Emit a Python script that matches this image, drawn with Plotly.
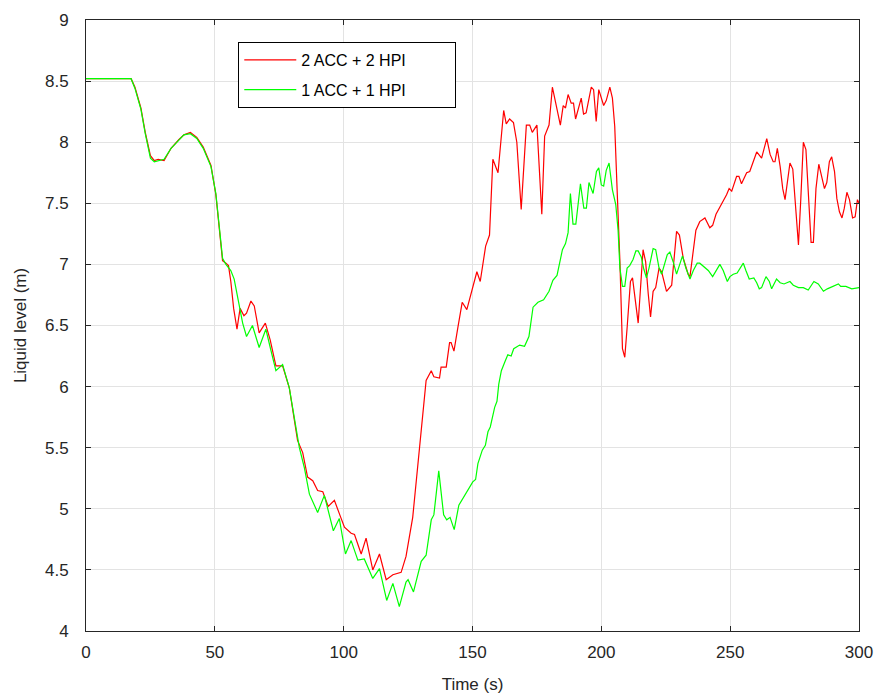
import plotly.graph_objects as go

# ---- data ----
t_red = [0, 17.5, 19, 21.3, 23, 25, 26.5, 28, 30.3, 33, 36, 38, 40.5, 43, 45.5, 48.5, 50.4, 51.7, 53, 54.3,
         55.3, 56.2, 57.3, 58.6, 59.8, 61.3, 62.3, 64, 65.3, 67.2, 69.6, 71.5, 73.7, 76.3, 78.9, 82.1, 84.1,
         86, 88, 89.9, 91.9, 94, 96.4, 98.5, 100.3, 102.9, 104.2, 106.8, 108.7, 111.3, 113.9, 116.5, 119.1,
         122.3, 124.2, 126.8, 129.4, 132, 134, 135, 137.2, 137.8, 139.8, 141.1, 141.7, 142.8, 144.3, 146,
         147.8, 150.1, 151.7, 153, 155.1, 156.6, 157.9, 159.9, 162.1, 163.1, 164.4, 165.9, 167.2, 168.9,
         170.9, 172.2, 173.2, 175, 176.9, 178, 179.7, 181, 184.1, 185.2, 186.1, 187.1, 188.3, 189.2, 190,
         192.2, 193.1, 194.1, 196.1, 197, 198, 199, 200.9, 201.9, 203.3, 204.3, 205.2, 206.2, 207.2, 208.2,
         209.1, 210, 211.3, 212.1, 213, 214.3, 216.2, 217.2, 218.2, 219.1, 220.1, 221.1, 222.4, 223.4,
         225.3, 227.3, 229.2, 230.3, 231.8, 233.7, 234.4, 235.7, 236.7, 238.2, 240.2, 242.1, 243.2, 244.5,
         246.7, 248.6, 249.6, 250.6, 252.5, 253.4, 254.4, 256.4, 257.6, 259, 260.3, 262.2, 264.2, 265.5,
         266.7, 267.4, 268.3, 269.4, 270.4, 271.3, 272.2, 273.2, 274.3, 275.2, 276.5, 277.4, 278.4, 279.4,
         280.3, 281.4, 282.3, 283.3, 284.4, 285.5, 286.6, 287.5, 288.5, 289.4, 290.5, 291.4, 292.4, 293.4,
         294.3, 295.3, 296.3, 297.5, 298.5, 299.4, 300]
level_red = [8.52, 8.52, 8.45, 8.28, 8.08, 7.89, 7.85, 7.86, 7.85, 7.95, 8.02, 8.06, 8.08, 8.04, 7.96, 7.81,
             7.57, 7.27, 7.03, 7.01, 6.99, 6.86, 6.64, 6.47, 6.64, 6.58, 6.60, 6.70, 6.66, 6.44, 6.52, 6.38,
             6.17, 6.17, 5.99, 5.56, 5.46, 5.26, 5.23, 5.15, 5.14, 5.02, 5.07, 4.95, 4.85, 4.80, 4.79, 4.63,
             4.76, 4.50, 4.63, 4.42, 4.46, 4.48, 4.61, 4.93, 5.48, 6.05, 6.13, 6.08, 6.07, 6.16, 6.16, 6.36,
             6.36, 6.29, 6.48, 6.69, 6.63, 6.81, 6.94, 6.86, 7.15, 7.24, 7.86, 7.75, 8.26, 8.15, 8.19, 8.16,
             8.00, 7.45, 8.14, 8.14, 8.08, 8.14, 7.41, 8.05, 8.14, 8.45, 8.14, 8.30, 8.28, 8.39, 8.32, 8.32,
             8.19, 8.36, 8.23, 8.24, 8.45, 8.43, 8.17, 8.43, 8.30, 8.34, 8.45, 8.36, 8.13, 7.57, 7.03, 6.31,
             6.24, 6.48, 6.86, 6.89, 6.75, 6.52, 7.12, 7.02, 6.76, 6.57, 6.78, 6.81, 6.97, 6.94, 6.78, 6.83,
             7.27, 7.24, 7.05, 6.92, 6.90, 7.13, 7.28, 7.35, 7.38, 7.30, 7.32, 7.41, 7.49, 7.57, 7.62, 7.60,
             7.72, 7.72, 7.66, 7.75, 7.76, 7.84, 7.92, 7.87, 8.03, 7.90, 7.84, 7.84, 7.95, 7.80, 7.62, 7.53,
             7.66, 7.83, 7.78, 7.49, 7.16, 7.53, 8.00, 7.94, 7.57, 7.18, 7.18, 7.62, 7.82, 7.71, 7.62, 7.67,
             7.84, 7.88, 7.76, 7.54, 7.43, 7.38, 7.46, 7.59, 7.53, 7.38, 7.39, 7.53, 7.50]

t_green = [0, 17.5, 19, 21.3, 23, 25, 26.5, 28, 30.3, 33, 36, 38, 40.5, 43, 45.5, 48.5, 50.4, 51.7, 53, 54.3,
           56.2, 57.5, 59.5, 60.8, 62.3, 64.6, 67.2, 69.8, 71.5, 73.7, 76.3, 78.9, 82.8, 84.7, 86.7, 89.9,
           92.5, 94.5, 96, 98.3, 100.7, 102.9, 105.5, 108, 111.3, 113.9, 116.7, 119.1, 121.6, 124.2, 125,
           127.1, 130.1, 132, 134, 135, 136.9, 138.8, 140, 141.3, 142.9, 144.7, 146.2, 148.2, 150.1, 151.2,
           152.1, 153.8, 155, 156, 156.9, 158.6, 159.5, 160.2, 161.2, 162.5, 163.7, 165, 166, 168.3, 170.2,
           171.9, 173.5, 175.4, 177.6, 179.7, 181.2, 182.8, 184.9, 186.1, 187.1, 188, 189, 190.1, 191.9,
           193.2, 194.2, 195.2, 196.8, 198.1, 199, 200, 200.9, 201.9, 203, 204.3, 205.6, 206.5, 207.2,
           208.2, 209.1, 210, 211, 212.3, 213.4, 214.3, 215.5, 216.5, 217.5, 218.5, 220.1, 221.1, 222.4,
           223.4, 225.6, 226.6, 227.9, 229.2, 230.5, 231.5, 232.8, 234.4, 235.7, 237.2, 238.2, 240.2, 241.5,
           243.2, 244.7, 246, 247.3, 248.9, 249.9, 251.2, 252.7, 253.8, 255.1, 256.1, 257.4, 259.2, 260.3,
           261.3, 262.2, 263.9, 265.2, 266.1, 268, 269.4, 270.9, 273.2, 274.5, 276.5, 278.4, 280.3, 282.5,
           284.2, 286.2, 287.7, 290, 292, 292.9, 294.9, 297.2, 299.1, 300]
level_green = [8.52, 8.52, 8.44, 8.27, 8.07, 7.87, 7.84, 7.85, 7.86, 7.95, 8.02, 8.06, 8.07, 8.03, 7.95, 7.80,
               7.58, 7.30, 7.05, 7.00, 6.95, 6.88, 6.67, 6.52, 6.41, 6.50, 6.32, 6.47, 6.32, 6.13, 6.18,
               5.99, 5.50, 5.34, 5.12, 4.97, 5.11, 4.95, 4.82, 4.92, 4.63, 4.74, 4.58, 4.59, 4.43, 4.51,
               4.25, 4.39, 4.20, 4.40, 4.42, 4.32, 4.57, 4.62, 4.91, 4.95, 5.31, 4.95, 4.91, 4.93, 4.83,
               5.03, 5.08, 5.15, 5.22, 5.24, 5.37, 5.48, 5.52, 5.63, 5.67, 5.83, 5.88, 6.02, 6.13, 6.20,
               6.26, 6.25, 6.31, 6.34, 6.33, 6.41, 6.65, 6.69, 6.71, 6.78, 6.87, 6.91, 7.12, 7.17, 7.26,
               7.58, 7.33, 7.33, 7.66, 7.46, 7.46, 7.67, 7.58, 7.76, 7.79, 7.65, 7.64, 7.77, 7.83, 7.61,
               7.49, 7.28, 6.97, 6.82, 6.82, 6.97, 6.99, 7.04, 7.11, 7.11, 7.06, 6.96, 6.89, 6.97, 7.13,
               7.12, 6.97, 6.92, 7.08, 7.10, 7.02, 6.92, 7.00, 7.07, 6.97, 6.88, 6.95, 7.01, 7.01, 6.97,
               6.95, 6.90, 6.95, 7.00, 6.95, 6.86, 6.90, 6.92, 6.93, 6.97, 7.01, 6.95, 6.88, 6.89, 6.85,
               6.80, 6.81, 6.90, 6.86, 6.80, 6.88, 6.85, 6.84, 6.86, 6.83, 6.81, 6.81, 6.79, 6.86, 6.84,
               6.78, 6.80, 6.82, 6.84, 6.82, 6.82, 6.80, 6.81, 6.81]

x_ticks = [0, 50, 100, 150, 200, 250, 300]
y_ticks = [4, 4.5, 5, 5.5, 6, 6.5, 7, 7.5, 8, 8.5, 9]
y_tick_labels = ["4", "4.5", "5", "5.5", "6", "6.5", "7", "7.5", "8", "8.5", "9"]

FONT = "Liberation Sans, Arial, sans-serif"
NB = "\u00a0"
fig = go.Figure()
fig.add_trace(go.Scatter(x=t_red, y=level_red, mode="lines", name="2 ACC + 2 HPI" + NB * 10,
                         line=dict(color="#ff0000", width=1.2), legendgroup="a"))
fig.add_trace(go.Scatter(x=t_green, y=level_green, mode="lines", name="1 ACC + 1 HPI" + NB * 10,
                         line=dict(color="#00ff00", width=1.2), legendgroup="b"))

axis_common = dict(showline=True, mirror="ticks", linecolor="#262626", linewidth=1,
                   ticks="inside", ticklen=5, tickcolor="#262626",
                   showgrid=True, gridcolor="#e3e3e3", gridwidth=1, zeroline=False,
                   tickfont=dict(family=FONT, size=17, color="#262626"))

fig.update_xaxes(range=[0, 300], tickvals=x_ticks, ticklabelstandoff=6, **axis_common,
                 title=dict(text="Time (s)", font=dict(family=FONT, size=17, color="#262626"), standoff=16))
fig.update_yaxes(range=[4, 9], tickvals=y_ticks, ticktext=y_tick_labels, ticklabelstandoff=13, **axis_common,
                 title=dict(text="Liquid level (m)", font=dict(family=FONT, size=17, color="#262626"),
                            standoff=14))

fig.update_layout(
    width=875, height=698,
    margin=dict(l=86, r=16, t=20, b=67, autoexpand=False),
    plot_bgcolor="white", paper_bgcolor="white",
    legend=dict(x=0.197, y=0.964, xanchor="left", yanchor="top",
                bordercolor="#000000", borderwidth=1, bgcolor="white",
                tracegroupgap=6, itemwidth=52,
                font=dict(family=FONT, size=16, color="#000000")),
)

fig.write_html("out.html")
